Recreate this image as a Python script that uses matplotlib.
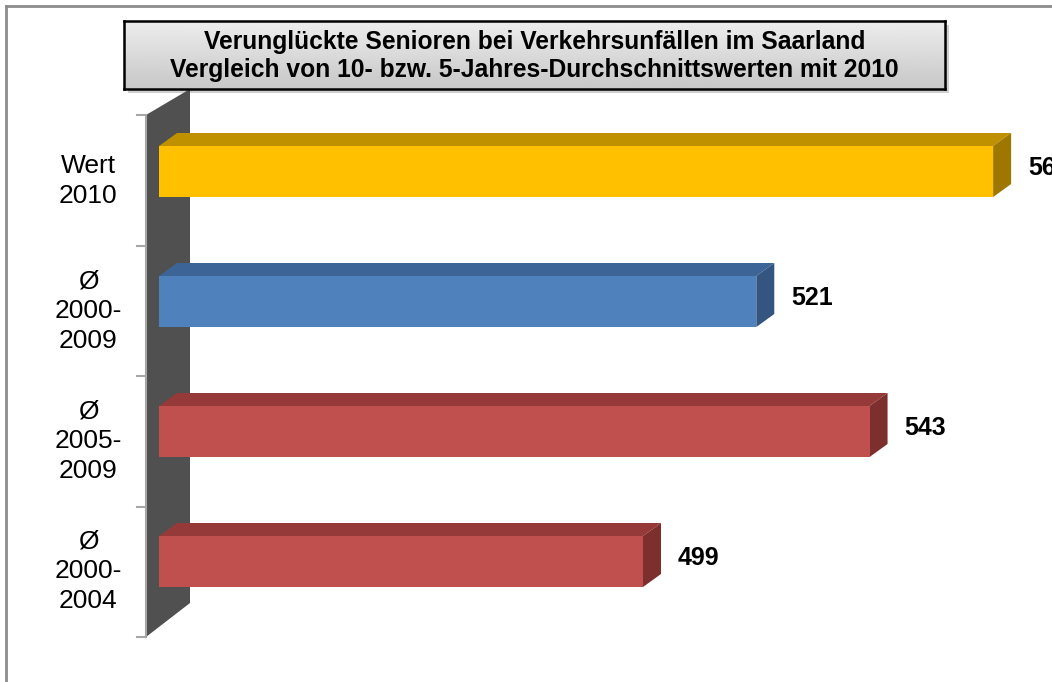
# ================================================================
# Verunglückte Senioren bei Verkehrsunfällen im Saarland
# 3D-style horizontal bar chart (Excel look)
# ================================================================

import matplotlib.pyplot as plt
from matplotlib.patches import Polygon, Rectangle
from matplotlib.lines import Line2D
import matplotlib.transforms as mtransforms
import numpy as np

plt.rcParams['font.family'] = ['Liberation Sans', 'DejaVu Sans']

# --- Data ---------------------------------------------------------
categories = ['Wert\n2010', 'Ø\n2000-\n2009', 'Ø\n2005-\n2009', 'Ø\n2000-\n2004']
values = [567, 521, 543, 499]

front_colors = ['#FFC000', '#4F81BD', '#C0504D', '#C0504D']
top_colors = ['#BF9000', '#3D6496', '#953A38', '#953A38']
side_colors = ['#9E7700', '#34557F', '#7D2F2D', '#7D2F2D']

title = ('Verunglückte Senioren bei Verkehrsunfällen im Saarland\n'
         'Vergleich von 10- bzw. 5-Jahres-Durchschnittswerten mit 2010')

# --- Figure -------------------------------------------------------
W, H = 1052, 682
fig = plt.figure(figsize=(W / 100, H / 100), dpi=100)


def fx(px):
    return px / W


def fy(py):
    return 1 - py / H


# axes: x pixel 159..1052, y pixel 90..637
x0 = 405
k = 5.149                      # pixels per unit
ax = fig.add_axes([fx(159), fy(637), fx(1052 - 159), (637 - 90) / H])
ax.set_xlim(x0, x0 + (1052 - 159) / k)
ax.set_ylim((637 - 171.5) / 130, (90 - 171.5) / 130)
ax.axis('off')

# outer frame
fig.add_artist(Line2D([fx(6), fx(6)], [fy(6), 0], color='#8C8C8C', lw=2))
fig.add_artist(Line2D([fx(6), 1], [fy(6), fy(6)], color='#8C8C8C', lw=2))

# back wall (behind the bars)
wall = Polygon([(fx(146), fy(115)), (fx(190), fy(89)), (fx(190), fy(603)),
                (fx(146), fy(637))], closed=True, transform=fig.transFigure,
               facecolor='#505050', edgecolor='none', zorder=1, clip_on=False)
ax.add_artist(wall)
ax.add_artist(Line2D([fx(146), fx(146)], [fy(115), fy(637)],
                     transform=fig.transFigure, color='#A6A6A6', lw=1.5,
                     zorder=1, clip_on=False))
for i in range(len(categories) + 1):
    ty = 115 + 130.5 * i
    ax.add_artist(Line2D([fx(137), fx(146)], [fy(ty), fy(ty)],
                         transform=fig.transFigure, color='#A6A6A6', lw=1.5,
                         zorder=1, clip_on=False))

# bars: front faces + depth faces
h = 51 / 130
dx = 18 / k
dy = -13 / 130
ypos = np.arange(len(values))
ax.barh(ypos, np.array(values) - x0, left=x0, height=h,
        color=front_colors, edgecolor='none', zorder=3)
for y, v, tc, sc in zip(ypos, values, top_colors, side_colors):
    top = y - h / 2
    bot = y + h / 2
    ax.add_patch(Polygon([(x0, top), (v, top), (v + dx, top + dy),
                          (x0 + dx, top + dy)], closed=True,
                         facecolor=tc, edgecolor='none', zorder=2,
                         clip_on=False))
    ax.add_patch(Polygon([(v, top), (v + dx, top + dy), (v + dx, bot + dy),
                          (v, bot)], closed=True,
                         facecolor=sc, edgecolor='none', zorder=2,
                         clip_on=False))
    ax.text(v + dx + 17 / k, y - 0.03, str(v), fontsize=18,
            fontweight='bold', ha='left', va='center', clip_on=False)

# category labels
blend = mtransforms.blended_transform_factory(fig.transFigure, ax.transData)
for y, lab in zip(ypos, categories):
    ax.text(fx(88), y + 0.075, lab, transform=blend, fontsize=19,
            ha='center', va='center', linespacing=1.3)

# title box with shadow and gradient
bx0, by0, bx1, by1 = 124, 21, 945, 89
shadow = Rectangle((fx(bx0 + 4), fy(by1 + 4)), fx(bx1 - bx0),
                   (by1 - by0) / H, transform=fig.transFigure,
                   facecolor='#B0B0B0', edgecolor='none', alpha=0.6,
                   zorder=-1)
fig.add_artist(shadow)
tax = fig.add_axes([fx(bx0), fy(by1), fx(bx1 - bx0), (by1 - by0) / H])
grad = np.linspace(0.93, 0.78, 100).reshape(-1, 1)
tax.imshow(grad, aspect='auto', cmap='gray', vmin=0, vmax=1,
           extent=[0, 1, 0, 1])
tax.set_xticks([])
tax.set_yticks([])
for s in tax.spines.values():
    s.set_linewidth(1.8)
    s.set_color('black')
tax.text(0.5, 0.48, title, transform=tax.transAxes, ha='center',
         va='center', fontsize=17.7, fontweight='bold', linespacing=1.2,
         color='black', zorder=5)

fig.savefig('out.png', dpi=100)
